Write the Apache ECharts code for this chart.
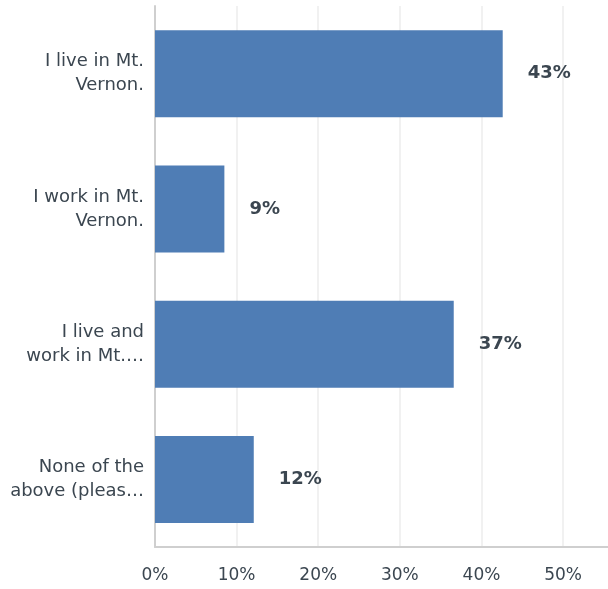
<!DOCTYPE html>
<html>
<head>
<meta charset="utf-8">
<script src="https://cdn.jsdelivr.net/npm/echarts@6/dist/echarts.min.js"></script>
<style>
  html, body { margin: 0; padding: 0; background: #fff; }
  #chart { width: 608px; height: 589px; }
</style>
</head>
<body>
<div id="chart"></div>
<script>
// Answer choices, top to bottom (as displayed, wrapped and truncated)
const categories = [
  'I live in Mt.\nVernon.',
  'I work in Mt.\nVernon.',
  'I live and\nwork in Mt.…',
  'None of the\nabove (pleas…'
];
// Share of respondents per answer, in percent
const values = [42.6, 8.5, 36.6, 12.1];
// Percent tick labels along the bottom axis (the axis runs on past the last one)
const tickValues = [0, 10, 20, 30, 40, 50];
const axisEnd = 55.5;

const textColor = '#3b4650';
const font = 'DejaVu Sans';
const chart = echarts.init(document.getElementById('chart'));
chart.setOption({
  animation: false,
  grid: { left: 155, right: 0, top: 6, bottom: 42, containLabel: false },
  xAxis: {
    type: 'value',
    min: tickValues[0],
    max: axisEnd,
    interval: tickValues[1] - tickValues[0],
    axisLine: { show: true, lineStyle: { color: '#cfcfcf', width: 2 } },
    axisTick: { show: false },
    splitLine: { show: true, showMaxLine: false, lineStyle: { color: '#ececec', width: 1.5 } },
    axisLabel: {
      showMaxLabel: false,
      formatter: v => v + '%',
      color: textColor,
      fontFamily: font,
      fontSize: 17,
      margin: 20
    }
  },
  yAxis: {
    type: 'category',
    inverse: true,
    data: categories,
    axisLine: { show: true, lineStyle: { color: '#cfcfcf', width: 2 } },
    axisTick: { show: false },
    axisLabel: {
      color: textColor,
      fontFamily: font,
      fontSize: 18,
      lineHeight: 24,
      align: 'right',
      margin: 11
    }
  },
  series: [{
    type: 'bar',
    data: values,
    barWidth: 87,
    itemStyle: { color: '#4f7db5' },
    label: {
      show: true,
      position: 'right',
      distance: 25,
      formatter: p => Math.round(p.value) + '%',
      color: textColor,
      fontFamily: font,
      fontWeight: 'bold',
      fontSize: 18
    }
  }]
});
</script>
</body>
</html>
